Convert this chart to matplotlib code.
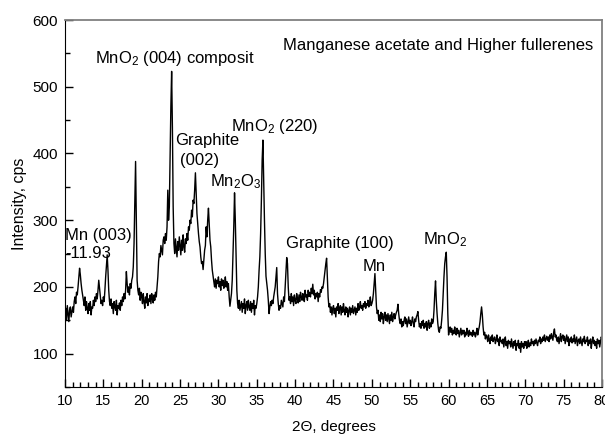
import numpy as np
import matplotlib
matplotlib.use("Agg")
from matplotlib import pyplot as plt
from matplotlib.ticker import MultipleLocator

plt.rcParams['font.family'] = ['Liberation Sans', 'DejaVu Sans']
plt.rcParams['mathtext.default'] = 'regular'

# 2-theta grid, 0.1 degree step, 10..80
two_theta = np.round(np.arange(10.0, 80.05, 0.1), 1)

# intensity (cps), one row per degree
intensity = [
    158, 168, 150, 172, 160, 148, 165, 170, 155, 163,   # 10
    170, 162, 178, 185, 175, 192, 188, 200, 215, 228,   # 11
    218, 205, 195, 188, 180, 172, 185, 165, 178, 168,   # 12
    160, 175, 165, 178, 158, 170, 168, 180, 172, 185,   # 13
    178, 190, 182, 195, 210, 198, 185, 175, 180, 172,   # 14
    185, 178, 195, 215, 232, 248, 225, 195, 178, 172,   # 15
    182, 168, 175, 160, 178, 170, 165, 180, 158, 172,   # 16
    168, 176, 165, 180, 172, 185, 178, 190, 182, 195,   # 17
    223, 205, 192, 200, 188, 205, 198, 210, 215, 230,   # 18
    265, 330, 388, 300, 210, 195, 188, 198, 180, 192,   # 19
    185, 175, 190, 178, 168, 185, 176, 190, 172, 182,   # 20
    178, 188, 175, 190, 182, 176, 188, 180, 192, 185,   # 21
    200, 215, 238, 250, 245, 262, 255, 248, 270, 275,   # 22
    265, 280, 270, 290, 345, 300, 320, 400, 470, 523,   # 23
    440, 320, 265, 250, 272, 258, 245, 268, 255, 275,   # 24
    262, 248, 270, 255, 278, 260, 252, 272, 265, 280,   # 25
    270, 290, 285, 300, 295, 315, 305, 330, 325, 345,   # 26
    371, 340, 310, 295, 280, 268, 260, 245, 235, 238,   # 27
    226, 240, 255, 262, 290, 275, 300, 318, 295, 270,   # 28
    260, 240, 225, 216, 208, 200, 212, 198, 210, 205,   # 29
    215, 200, 208, 195, 212, 202, 210, 198, 205, 215,   # 30
    200, 208, 195, 205, 185, 171, 180, 190, 210, 250,   # 31
    290, 341, 300, 250, 195, 175, 168, 180, 165, 172,   # 32
    178, 162, 175, 168, 182, 160, 172, 178, 165, 180,   # 33
    170, 165, 178, 162, 175, 168, 180, 158, 172, 168,   # 34
    175, 185, 200, 225, 245, 280, 330, 390, 420, 360,   # 35
    300, 250, 216, 205, 195, 180, 160, 170, 178, 172,   # 36
    180, 175, 185, 192, 200, 215, 229, 190, 175, 165,   # 37
    172, 168, 180, 175, 170, 185, 178, 200, 220, 244,   # 38
    235, 200, 180, 185, 175, 190, 178, 185, 172, 188,   # 39
    180, 175, 190, 182, 176, 188, 178, 192, 185, 180,   # 40
    190, 182, 178, 195, 185, 188, 180, 195, 186, 192,   # 41
    185, 198, 190, 204, 188, 195, 182, 190, 185, 192,   # 42
    178, 190, 185, 196, 192, 200, 198, 205, 215, 225,   # 43
    235, 243, 215, 185, 170, 175, 162, 170, 158, 168,   # 44
    172, 160, 168, 155, 170, 165, 175, 160, 168, 172,   # 45
    158, 170, 162, 175, 165, 158, 170, 162, 168, 155,   # 46
    165, 170, 158, 168, 162, 172, 160, 165, 170, 158,   # 47
    168, 162, 175, 165, 170, 178, 168, 172, 165, 175,   # 48
    170, 178, 168, 175, 172, 180, 170, 176, 185, 172,   # 49
    175, 180, 190, 205, 220, 195, 170, 160, 165, 150,   # 50
    158, 148, 162, 152, 160, 145, 155, 162, 150, 158,   # 51
    148, 160, 152, 145, 158, 150, 162, 148, 155, 160,   # 52
    152, 158, 162, 165, 174, 160, 150, 145, 152, 140,   # 53
    148, 142, 150, 155, 145, 152, 140, 148, 155, 145,   # 54
    150, 142, 148, 155, 145, 140, 152, 148, 155, 158,   # 55
    163, 150, 140, 145, 138, 148, 142, 150, 138, 145,   # 56
    140, 148, 135, 145, 150, 138, 146, 140, 152, 145,   # 57
    148, 165, 190, 209, 180, 160, 145, 135, 132, 140,   # 58
    138, 150, 165, 190, 215, 235, 245, 252, 215, 160,   # 59
    128, 135, 140, 132, 138, 128, 135, 130, 140, 132,   # 60
    128, 138, 130, 135, 125, 132, 138, 128, 135, 130,   # 61
    135, 125, 132, 128, 138, 130, 126, 135, 128, 132,   # 62
    130, 126, 135, 128, 132, 125, 130, 138, 128, 135,   # 63
    140, 148, 160, 170, 158, 140, 128, 132, 122, 128,   # 64
    125, 118, 128, 122, 115, 125, 120, 128, 118, 122,   # 65
    125, 115, 120, 128, 118, 122, 112, 125, 118, 120,   # 66
    115, 122, 110, 120, 125, 112, 118, 108, 120, 115,   # 67
    118, 110, 122, 115, 108, 118, 112, 120, 105, 115,   # 68
    112, 120, 108, 115, 102, 118, 110, 115, 108, 118,   # 69
    112, 118, 108, 115, 120, 110, 116, 112, 122, 115,   # 70
    118, 112, 120, 115, 122, 116, 112, 120, 118, 125,   # 71
    115, 122, 118, 125, 120, 128, 118, 122, 126, 120,   # 72
    125, 118, 128, 122, 130, 125, 120, 132, 137, 125,   # 73
    128, 120, 118, 125, 115, 122, 130, 118, 125, 128,   # 74
    120, 126, 115, 122, 128, 118, 125, 112, 122, 118,   # 75
    125, 116, 122, 118, 128, 115, 120, 125, 112, 120,   # 76
    122, 115, 125, 118, 112, 122, 118, 126, 115, 120,   # 77
    118, 125, 112, 120, 115, 122, 108, 118, 125, 115,   # 78
    120, 112, 118, 108, 122, 115, 120, 110, 118, 125,   # 79
    122,                                                # 80
]

# peak labels: (text, x, y)
labels = [
    ("MnO$_2$ (004) composit", 13.9, 536),
    ("Manganese acetate and Higher fullerenes", 38.4, 555),
    ("Graphite", 24.3, 413),
    ("(002)", 25.0, 382),
    ("MnO$_2$ (220)", 31.6, 434),
    ("Mn$_2$O$_3$", 28.9, 351),
    ("Mn (003)", 10.0, 271),
    ("-11.93", 10.0, 244),
    ("Graphite (100)", 38.8, 259),
    ("Mn", 48.8, 224),
    ("MnO$_2$", 56.65, 264),
]

fig = plt.figure(figsize=(6.05, 4.36), dpi=100)
ax = fig.add_axes([65 / 605, 1 - 387 / 436, 537 / 605, 367 / 436])

ax.plot(two_theta, intensity, color='black', lw=1.0)

for txt, x, y in labels:
    ax.text(x, y, txt, fontsize=12, ha='left', va='baseline')

ax.set_xlim(10, 80)
ax.set_ylim(50, 600)
ax.xaxis.set_major_locator(MultipleLocator(5))
ax.xaxis.set_minor_locator(MultipleLocator(1))
ax.yaxis.set_major_locator(MultipleLocator(100))
ax.yaxis.set_minor_locator(MultipleLocator(50))
ax.tick_params(which='both', direction='in', top=False, right=False, width=1)
ax.tick_params(which='major', length=5.5, pad=5)
ax.tick_params(which='minor', length=3.5)
ax.tick_params(axis='x', labelsize=10.5)
ax.tick_params(axis='y', labelsize=11)

for s in ('left', 'bottom'):
    ax.spines[s].set_color('black')
for s in ('top', 'right'):
    ax.spines[s].set_color('#808080')
    ax.spines[s].set_linewidth(1.3)

ax.set_xlabel("2\u0398, degrees", fontsize=11, labelpad=9)
ax.set_ylabel("Intensity, cps", fontsize=11.5, labelpad=4)

fig.savefig("out.png", dpi=100)
